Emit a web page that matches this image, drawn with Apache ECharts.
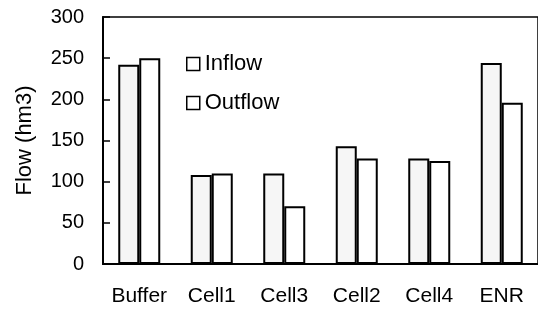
<!DOCTYPE html>
<html>
<head>
<meta charset="utf-8">
<script src="https://cdn.jsdelivr.net/npm/echarts@6/dist/echarts.min.js"></script>
<style>
  html, body { margin: 0; padding: 0; background: #fff; }
  #chart { width: 538px; height: 309px; }
</style>
</head>
<body>
<div id="chart"></div>
<script>
// data
var categories = ['Buffer', 'Cell1', 'Cell3', 'Cell2', 'Cell4', 'ENR'];
var inflow = [242, 108, 110, 143, 128, 244];
var outflow = [250, 110, 70, 128, 125, 196];

var chart = echarts.init(document.getElementById('chart'));
var font = 'Liberation Sans, Arial, sans-serif';

var options = {
  animation: false,
  backgroundColor: '#fff',
  grid: {
    left: 103,
    top: 17,
    width: 437,
    height: 247,
    show: true,
    borderColor: '#000',
    borderWidth: 1.5,
    backgroundColor: 'transparent'
  },
  legend: {
    orient: 'vertical',
    left: 181,
    top: 48,
    itemWidth: 13,
    itemHeight: 13,
    itemGap: 17,
    icon: 'rect',
    textStyle: { fontFamily: font, fontSize: 22, color: '#000' },
    data: [
      { name: 'Inflow', itemStyle: { color: '#fff', borderColor: '#000', borderWidth: 1.5 } },
      { name: 'Outflow', itemStyle: { color: '#fff', borderColor: '#000', borderWidth: 1.5 } }
    ]
  },
  xAxis: {
    type: 'category',
    data: categories,
    axisLine: { lineStyle: { color: '#000', width: 2 } },
    axisTick: { inside: true, length: 5, lineStyle: { color: '#000', width: 1.5 } },
    axisLabel: { color: '#000', fontFamily: font, fontSize: 21, margin: 22 }
  },
  yAxis: {
    type: 'value',
    min: 0,
    max: 300,
    interval: 50,
    name: 'Flow (hm3)',
    nameLocation: 'middle',
    nameGap: 67,
    nameTextStyle: { color: '#000', fontFamily: font, fontSize: 22 },
    axisLine: { show: true, lineStyle: { color: '#000', width: 2 } },
    axisTick: { show: true, inside: true, length: 7, lineStyle: { color: '#000', width: 1.5 } },
    axisLabel: { color: '#000', fontFamily: font, fontSize: 20, margin: 19 },
    splitLine: { show: false }
  },
  series: [
    {
      name: 'Inflow',
      type: 'bar',
      data: inflow,
      barWidth: 21,
      barGap: '0%',
      itemStyle: { color: '#f6f6f6', borderColor: '#000', borderWidth: 2 }
    },
    {
      name: 'Outflow',
      type: 'bar',
      data: outflow,
      barWidth: 21,
      barGap: '0%',
      itemStyle: { color: '#fff', borderColor: '#000', borderWidth: 2 }
    }
  ]
};
chart.setOption(options);
</script>
</body>
</html>
